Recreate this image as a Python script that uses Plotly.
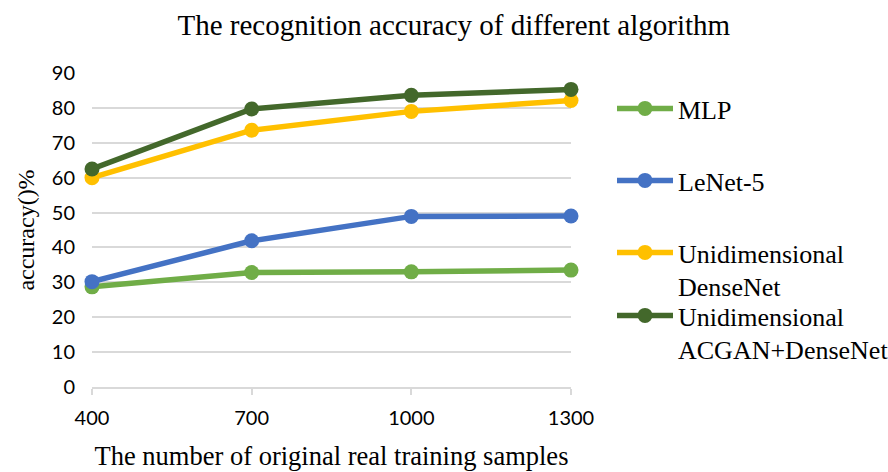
import plotly.graph_objects as go

# data
samples = [400, 700, 1000, 1300]
mlp = [28.7, 32.8, 33.0, 33.5]
lenet = [30.2, 41.9, 48.9, 49.0]
densenet = [60.0, 73.6, 79.0, 82.1]
acgan_densenet = [62.5, 79.7, 83.6, 85.3]

series = [
    ("MLP", mlp, "#70ad47"),
    ("LeNet-5", lenet, "#4472c4"),
    ("Unidimensional<br>DenseNet", densenet, "#ffc000"),
    ("Unidimensional<br>ACGAN+DenseNet", acgan_densenet, "#43682b"),
]

SERIF = "Liberation Serif"
SANS = "Lato"

fig = go.Figure()

legend_names = ["legend", "legend2", "legend3", "legend4"]
legend_y = [108, 180, 252, 315]  # pixel centre of first text line

for (name, vals, color), lg in zip(series, legend_names):
    fig.add_trace(go.Scatter(
        x=samples, y=vals, name=name, mode="lines+markers",
        line=dict(color=color, width=5.5),
        marker=dict(color=color, size=15),
        legend=lg, showlegend=True,
        cliponaxis=False,
    ))

layout_legends = {}
for lg, py in zip(legend_names, legend_y):
    layout_legends[lg] = dict(
        x=612 / 888, y=1 - (py - 23) / 472,
        xref="container", yref="container",
        xanchor="left", yanchor="top",
        font=dict(family=SERIF, size=26, color="#000000"),
        bgcolor="rgba(0,0,0,0)",
        valign="top",
        itemwidth=56,
    )

fig.update_layout(
    width=888, height=472,
    showlegend=True,
    paper_bgcolor="white", plot_bgcolor="white",
    margin=dict(l=92, r=317, t=73, b=85),
    title=dict(
        text="The recognition accuracy of different algorithm",
        font=dict(family=SERIF, size=29, color="#000000"),
        x=0.511, xanchor="center", y=0.947, yanchor="middle",
    ),
    xaxis=dict(
        range=[400, 1300],
        tickvals=samples, ticktext=[str(s) for s in samples],
        showgrid=False, zeroline=False, automargin=False,
        showline=True, linecolor="#d9d9d9", linewidth=2,
        ticks="outside", ticklen=6, tickcolor="#d9d9d9", tickwidth=2,
        ticklabelstandoff=6,
        tickfont=dict(family=SANS, size=20, color="#000000"),
        title=dict(text="The number of original real training samples",
                   font=dict(family=SERIF, size=26.5, color="#000000"),
                   standoff=18),
    ),
    yaxis=dict(
        range=[0, 90], dtick=10, automargin=False,
        showgrid=True, gridcolor="#d9d9d9", gridwidth=1.5,
        zeroline=False, showline=False, ticks="",
        ticklabelstandoff=16,
        tickfont=dict(family=SANS, size=20, color="#000000"),
        title=dict(text="accuracy()%",
                   font=dict(family=SERIF, size=24, color="#000000"),
                   standoff=10),
    ),
    **layout_legends,
)

fig.write_html("out.html", config={"displayModeBar": False},
               post_script="document.body.style.margin='0';")
